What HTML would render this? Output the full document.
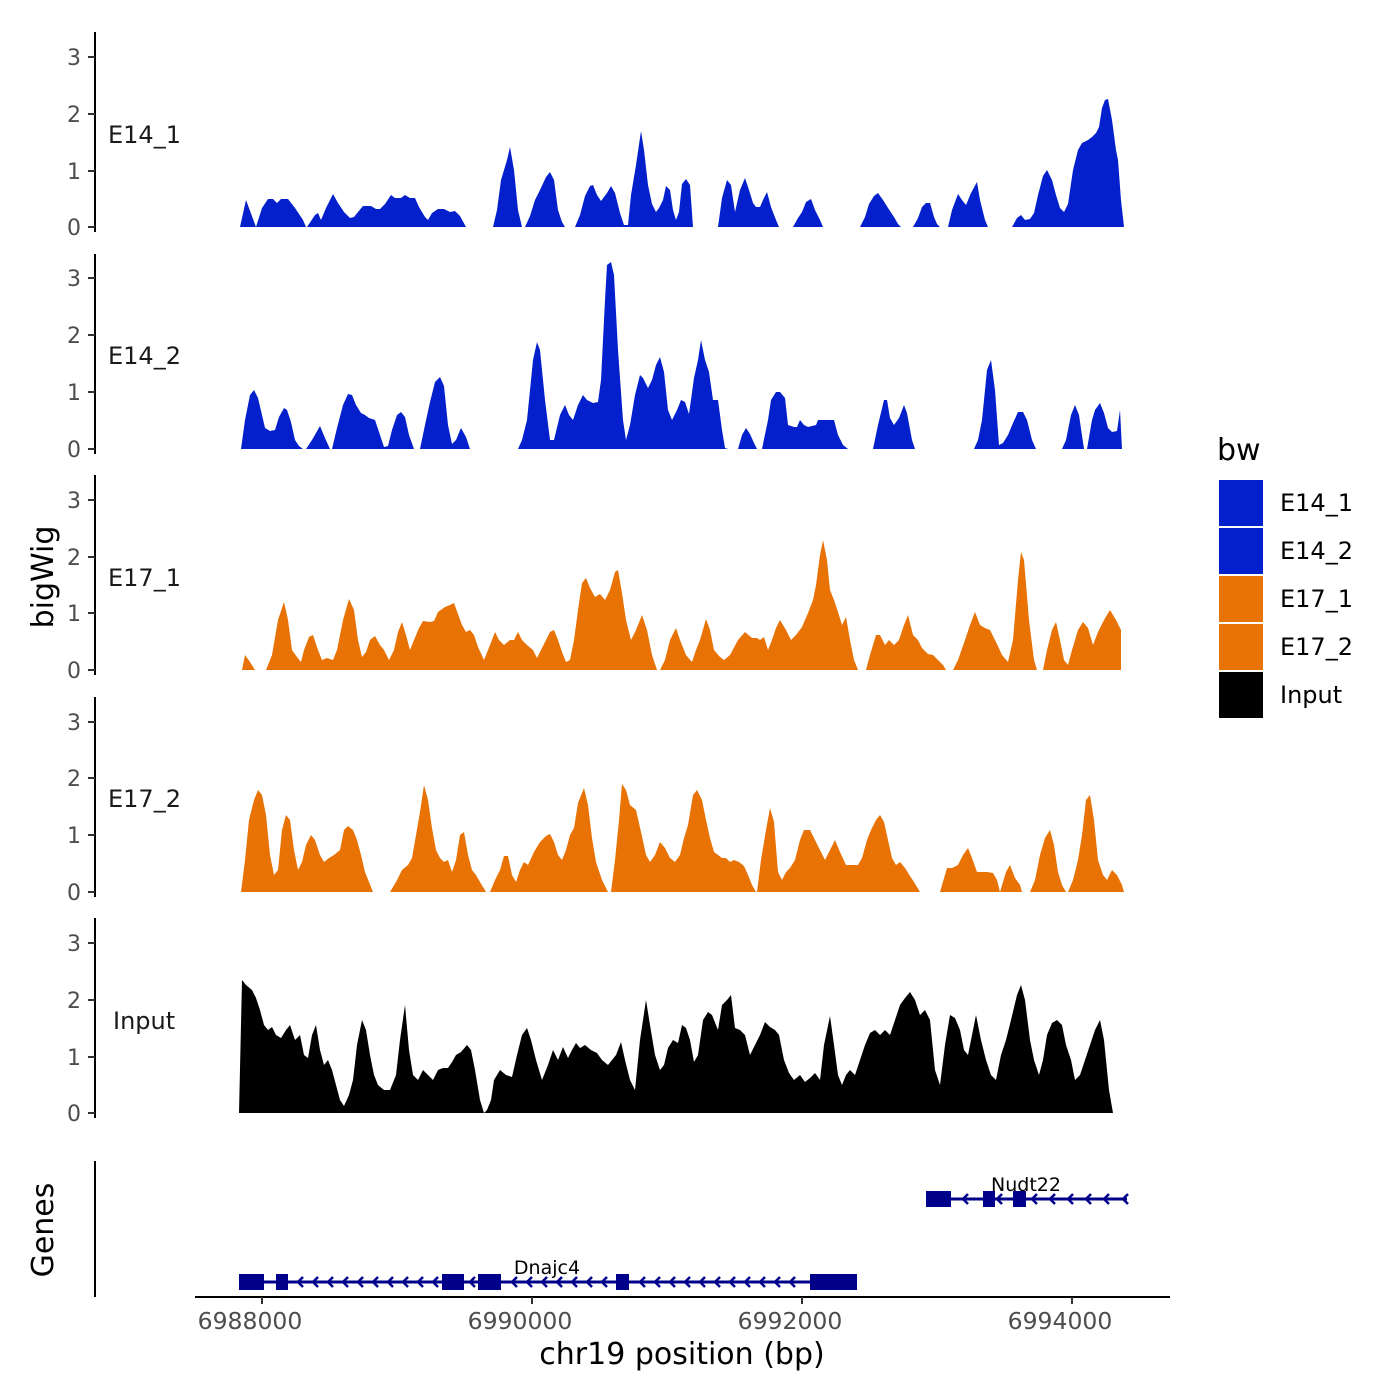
<!DOCTYPE html>
<html><head><style>
body{margin:0;background:#fff}
svg{display:block;font-family:"DejaVu Sans","Liberation Sans",sans-serif}
</style></head><body>
<svg width="1400" height="1400" viewBox="0 0 1400 1400" xmlns="http://www.w3.org/2000/svg">
<rect width="1400" height="1400" fill="#fff"/>
<!-- axes -->
<g stroke="#000" stroke-width="2">
<line x1="95" y1="32" x2="95" y2="232"/>
<line x1="95" y1="254" x2="95" y2="454"/>
<line x1="95" y1="475" x2="95" y2="675"/>
<line x1="95" y1="697" x2="95" y2="897"/>
<line x1="95" y1="918" x2="95" y2="1118"/>
<line x1="95" y1="1161" x2="95" y2="1297"/>
<line x1="195" y1="1297" x2="1170" y2="1297"/>
</g>
<g stroke="#333" stroke-width="2">
<line x1="88" y1="227" x2="95" y2="227"/><line x1="88" y1="171" x2="95" y2="171"/><line x1="88" y1="114" x2="95" y2="114"/><line x1="88" y1="57" x2="95" y2="57"/>
<line x1="88" y1="449" x2="95" y2="449"/><line x1="88" y1="392" x2="95" y2="392"/><line x1="88" y1="335" x2="95" y2="335"/><line x1="88" y1="278" x2="95" y2="278"/>
<line x1="88" y1="670" x2="95" y2="670"/><line x1="88" y1="613" x2="95" y2="613"/><line x1="88" y1="557" x2="95" y2="557"/><line x1="88" y1="500" x2="95" y2="500"/>
<line x1="88" y1="892" x2="95" y2="892"/><line x1="88" y1="835" x2="95" y2="835"/><line x1="88" y1="778" x2="95" y2="778"/><line x1="88" y1="722" x2="95" y2="722"/>
<line x1="88" y1="1113" x2="95" y2="1113"/><line x1="88" y1="1057" x2="95" y2="1057"/><line x1="88" y1="1000" x2="95" y2="1000"/><line x1="88" y1="943" x2="95" y2="943"/>
<line x1="262" y1="1297" x2="262" y2="1304"/><line x1="532" y1="1297" x2="532" y2="1304"/><line x1="802" y1="1297" x2="802" y2="1304"/><line x1="1072" y1="1297" x2="1072" y2="1304"/>
</g>
<g fill="#4d4d4d" font-size="22" text-anchor="end">
<text x="81" y="235">0</text><text x="81" y="179">1</text><text x="81" y="122">2</text><text x="81" y="65">3</text>
<text x="81" y="457">0</text><text x="81" y="400">1</text><text x="81" y="343">2</text><text x="81" y="286">3</text>
<text x="81" y="678">0</text><text x="81" y="621">1</text><text x="81" y="565">2</text><text x="81" y="508">3</text>
<text x="81" y="900">0</text><text x="81" y="843">1</text><text x="81" y="786">2</text><text x="81" y="730">3</text>
<text x="81" y="1121">0</text><text x="81" y="1065">1</text><text x="81" y="1008">2</text><text x="81" y="951">3</text>
</g>
<g fill="#4d4d4d" font-size="23.5" text-anchor="middle">
<text x="250" y="1329">6988000</text><text x="520" y="1329">6990000</text><text x="790" y="1329">6992000</text><text x="1060" y="1329">6994000</text>
</g>
<g fill="#1a1a1a" font-size="24">
<text x="108" y="143">E14_1</text><text x="108" y="364">E14_2</text><text x="108" y="586">E17_1</text><text x="108" y="807">E17_2</text><text x="113" y="1029">Input</text>
</g>
<text x="682" y="1364" font-size="30" text-anchor="middle">chr19 position (bp)</text>
<text transform="translate(53,577) rotate(-90)" font-size="30" text-anchor="middle">bigWig</text>
<text transform="translate(53,1230) rotate(-90)" font-size="30" text-anchor="middle">Genes</text>

<!-- Track 1 -->
<g fill="#0320cc">
<polygon points="240,227 246,200 256,227 262,208 268,199 273,199 277,203 281,199 288,199 295,208 303,220 306,227"/>
<polygon points="307,227 315,215 318,213 321,220 326,208 333,194 338,203 344,212 350,218 354,217 358,212 363,206 371,206 376,209 380,209 385,204 391,195 395,198 401,198 405,195 410,198 415,198 419,207 425,217 428,220 432,213 438,209 444,209 450,212 455,211 460,216 466,227"/>
<polygon points="493,227 497,210 501,180 507,160 510,147 514,170 518,210 522,227"/>
<polygon points="525,227 530,216 535,200 540,190 546,177 550,172 554,180 558,210 562,222 565,227"/>
<polygon points="575,227 580,215 585,196 590,186 593,185 597,195 601,201 607,193 611,186 615,193 620,213 624,225 628,225 631,195 636,165 641,131 644,150 648,185 652,204 656,212 659,208 663,200 666,186 670,190 673,210 676,220 679,212 682,184 686,179 690,185 693,227"/>
<polygon points="718,227 722,198 727,180 731,185 735,212 740,190 745,178 749,190 753,203 756,207 760,207 763,200 767,192 771,207 776,220 779,227"/>
<polygon points="793,227 798,218 802,212 806,202 811,199 815,210 820,220 823,227"/>
<polygon points="860,227 865,217 869,204 874,196 878,193 883,200 888,208 894,217 898,224 901,227"/>
<polygon points="913,227 918,218 922,207 926,203 930,203 934,217 937,224 940,227"/>
<polygon points="948,227 952,210 958,194 962,200 966,205 971,193 977,182 980,200 985,220 988,227"/>
<polygon points="1012,227 1017,218 1021,215 1025,220 1030,219 1034,213 1038,195 1043,176 1047,170 1052,180 1056,195 1060,208 1064,212 1068,204 1073,170 1078,150 1082,143 1088,140 1092,137 1096,133 1099,127 1102,108 1105,100 1108,99 1112,120 1116,150 1118,160 1121,200 1124,227"/>
</g>
<!-- Track 2 -->
<g fill="#0320cc">
<polygon points="241,449 245,420 250,395 254,390 258,398 262,415 265,428 270,431 275,430 279,417 284,408 287,410 291,422 295,440 299,446 303,449"/>
<polygon points="306,449 312,440 320,426 325,438 330,449"/>
<polygon points="332,449 337,428 343,405 348,394 352,395 356,405 361,413 365,415 369,418 375,420 379,432 384,447 388,446 392,430 397,415 401,412 405,417 409,435 414,449"/>
<polygon points="420,449 425,425 430,402 435,382 440,377 444,386 448,425 452,444 456,440 461,428 466,437 470,449"/>
<polygon points="518,449 522,440 527,420 533,360 537,342 540,350 545,400 550,440 554,440 560,415 565,405 569,415 573,420 578,405 583,395 587,400 593,403 598,402 601,380 605,300 607,265 611,262 614,275 618,350 623,420 626,440 630,425 635,395 640,375 643,378 648,388 652,380 656,365 660,357 664,372 668,410 672,420 677,410 681,400 685,402 689,414 694,378 698,360 701,340 705,360 709,372 713,400 718,400 722,430 725,448 728,449"/>
<polygon points="738,449 742,435 746,428 750,434 754,443 757,449"/>
<polygon points="762,449 768,420 771,400 776,392 780,392 785,398 788,425 794,427 797,427 800,420 804,425 808,427 812,426 816,425 818,420 834,420 838,435 843,445 848,449"/>
<polygon points="873,449 878,425 884,400 887,400 890,418 894,425 899,418 904,405 907,413 912,440 915,449"/>
<polygon points="974,449 978,440 982,420 987,370 991,360 995,390 999,445 1003,443 1008,435 1013,423 1018,412 1023,412 1027,420 1032,440 1036,449"/>
<polygon points="1062,449 1066,440 1071,415 1075,405 1079,415 1084,449"/>
<polygon points="1087,449 1092,420 1095,410 1100,403 1104,413 1108,428 1112,432 1117,431 1120,410 1122,449"/>
</g>
<!-- Track 3 -->
<g fill="#e87204">
<polygon points="242,670 245,655 250,662 255,670"/>
<polygon points="266,670 272,655 278,620 284,602 288,620 292,650 297,657 301,662 304,650 309,637 313,635 318,650 322,660 327,658 333,660 337,650 343,620 349,599 354,610 358,640 362,657 366,652 370,640 375,636 380,645 384,650 389,660 394,650 398,632 402,622 406,635 410,650 414,640 419,628 423,621 430,622 434,621 438,612 445,607 450,605 454,603 458,614 462,625 466,632 470,630 474,635 478,647 484,660 488,650 492,640 495,632 499,640 504,645 510,640 514,640 518,632 522,640 527,645 533,650 537,658 541,650 546,640 550,632 554,630 558,640 562,652 566,662 570,660 574,640 578,610 582,583 586,578 590,588 595,597 600,594 605,600 610,590 615,572 618,570 622,593 626,620 631,640 636,630 642,615 647,630 652,655 657,670"/>
<polygon points="660,670 665,660 670,640 676,628 680,640 686,655 692,662 696,650 700,640 706,619 710,630 714,650 720,657 724,660 730,655 738,640 745,632 752,638 757,638 760,640 764,637 768,650 772,640 776,628 780,620 786,630 791,640 796,635 802,627 808,613 813,600 816,585 820,555 823,540 827,560 830,590 834,600 838,612 842,625 846,617 850,640 854,660 858,670"/>
<polygon points="866,670 870,655 876,635 880,635 885,645 889,640 894,645 899,640 904,625 908,615 913,635 918,640 922,648 928,654 933,655 938,660 943,665 946,670"/>
<polygon points="953,670 958,660 965,640 970,625 975,612 980,625 985,628 990,630 996,642 1002,655 1008,662 1013,640 1018,580 1021,552 1024,560 1029,620 1034,660 1037,670"/>
<polygon points="1043,670 1047,650 1052,630 1056,622 1060,640 1064,660 1068,665 1072,650 1078,630 1083,622 1088,628 1093,645 1098,632 1104,620 1110,610 1116,620 1121,630 1121,670"/>
</g>
<!-- Track 4 -->
<g fill="#e87204">
<polygon points="241,892 245,860 249,820 254,800 258,790 262,795 266,815 270,855 274,875 278,870 282,830 286,815 290,820 294,850 298,870 302,862 306,845 311,835 315,840 320,855 324,862 329,858 334,855 340,850 344,830 348,826 353,830 357,840 361,855 365,872 369,882 373,892"/>
<polygon points="390,892 396,882 402,870 408,865 412,858 416,835 420,812 424,785 428,800 432,828 436,850 440,858 444,862 448,860 452,872 456,860 460,835 464,832 468,855 472,870 476,875 480,882 486,892"/>
<polygon points="490,892 495,880 500,870 504,856 508,856 512,875 516,882 520,870 524,862 528,865 534,852 540,842 546,836 550,834 554,842 558,855 562,860 566,850 570,835 574,828 578,803 584,788 588,805 592,838 596,862 602,880 608,892"/>
<polygon points="611,892 615,860 619,820 622,784 626,790 630,805 636,810 641,832 646,855 650,862 655,855 660,842 665,848 670,858 675,862 680,855 684,838 688,825 693,795 697,790 702,800 706,820 710,838 714,852 718,855 722,858 726,858 730,862 734,860 739,862 744,866 748,875 752,885 756,892"/>
<polygon points="757,892 761,860 766,830 770,808 774,822 778,872 782,880 786,872 790,868 795,860 800,840 804,830 810,830 815,840 820,850 825,860 830,850 835,840 840,852 846,865 852,865 858,865 862,858 867,840 871,830 876,820 880,815 884,822 888,840 892,858 896,865 900,862 905,868 910,876 914,882 920,892"/>
<polygon points="940,892 947,868 952,868 958,865 963,855 968,848 972,858 977,872 982,872 987,872 993,873 997,880 1000,892 1003,882 1006,872 1010,865 1015,878 1020,885 1022,892"/>
<polygon points="1030,892 1035,880 1040,855 1045,838 1050,830 1054,845 1058,872 1062,885 1066,892"/>
<polygon points="1068,892 1073,880 1078,860 1082,835 1086,800 1090,795 1094,820 1098,860 1103,875 1107,880 1112,870 1117,875 1122,885 1124,892"/>
</g>
<!-- Track 5 -->
<polygon fill="#000" points="239,1113 242,980 246,985 252,990 256,998 260,1010 264,1025 268,1030 272,1027 276,1035 281,1038 286,1030 290,1025 295,1040 300,1035 304,1055 308,1058 312,1035 316,1025 320,1050 324,1065 328,1060 332,1070 336,1085 340,1100 344,1106 349,1095 353,1080 357,1045 362,1020 366,1030 370,1055 374,1075 378,1085 384,1090 390,1090 396,1075 400,1040 405,1005 409,1050 413,1075 418,1080 423,1070 428,1075 433,1080 438,1070 443,1068 448,1068 452,1062 456,1055 461,1052 467,1045 471,1050 475,1070 480,1100 484,1113 487,1110 491,1100 494,1080 500,1070 506,1075 512,1077 517,1055 522,1035 527,1028 531,1040 536,1060 542,1080 548,1065 553,1050 558,1060 563,1047 568,1058 572,1050 576,1043 580,1048 585,1045 591,1050 597,1053 602,1060 608,1065 612,1060 616,1055 621,1042 625,1060 630,1080 635,1090 640,1040 646,1000 650,1025 655,1055 660,1070 664,1065 668,1048 673,1040 678,1043 682,1025 686,1028 690,1040 694,1062 698,1055 703,1020 708,1012 712,1015 718,1030 722,1005 727,1000 731,995 735,1028 740,1030 745,1035 750,1055 755,1045 760,1035 765,1022 770,1027 775,1030 779,1035 784,1060 789,1073 794,1080 800,1075 805,1082 810,1078 815,1073 820,1080 824,1045 830,1016 834,1045 838,1075 842,1085 846,1075 850,1070 855,1075 860,1060 865,1045 870,1033 875,1030 880,1035 885,1030 890,1035 895,1020 900,1005 905,998 910,992 915,1000 920,1015 925,1010 930,1020 935,1070 940,1085 945,1045 950,1015 955,1018 960,1030 964,1050 968,1055 972,1035 976,1015 981,1040 986,1060 991,1075 996,1080 1001,1055 1006,1040 1011,1020 1017,995 1021,985 1025,1000 1030,1040 1034,1060 1039,1075 1043,1060 1047,1035 1052,1023 1057,1020 1062,1025 1066,1045 1071,1060 1075,1080 1080,1075 1085,1060 1090,1045 1095,1030 1100,1020 1104,1040 1109,1090 1113,1113"/>

<!-- Genes -->
<g stroke="#00008b" stroke-width="3" fill="none">
<line x1="239" y1="1282" x2="857" y2="1282"/>
<line x1="926" y1="1199" x2="1127" y2="1199"/>
<g stroke-width="2.5">
<polyline points="303,1277 298,1282 303,1287"/><polyline points="318,1277 313,1282 318,1287"/><polyline points="333,1277 328,1282 333,1287"/><polyline points="348,1277 343,1282 348,1287"/><polyline points="363,1277 358,1282 363,1287"/><polyline points="378,1277 373,1282 378,1287"/><polyline points="393,1277 388,1282 393,1287"/><polyline points="408,1277 403,1282 408,1287"/><polyline points="423,1277 418,1282 423,1287"/><polyline points="438,1277 433,1282 438,1287"/>
<polyline points="475,1277 470,1282 475,1287"/>
<polyline points="517,1277 512,1282 517,1287"/><polyline points="532,1277 527,1282 532,1287"/><polyline points="547,1277 542,1282 547,1287"/><polyline points="562,1277 557,1282 562,1287"/><polyline points="577,1277 572,1282 577,1287"/><polyline points="592,1277 587,1282 592,1287"/><polyline points="607,1277 602,1282 607,1287"/>
<polyline points="645,1277 640,1282 645,1287"/><polyline points="660,1277 655,1282 660,1287"/><polyline points="675,1277 670,1282 675,1287"/><polyline points="690,1277 685,1282 690,1287"/><polyline points="705,1277 700,1282 705,1287"/><polyline points="720,1277 715,1282 720,1287"/><polyline points="735,1277 730,1282 735,1287"/><polyline points="750,1277 745,1282 750,1287"/><polyline points="765,1277 760,1282 765,1287"/><polyline points="780,1277 775,1282 780,1287"/><polyline points="795,1277 790,1282 795,1287"/>
<polyline points="968,1194 963,1199 968,1204"/><polyline points="1002,1194 997,1199 1002,1204"/><polyline points="1037,1194 1032,1199 1037,1204"/><polyline points="1055,1194 1050,1199 1055,1204"/><polyline points="1073,1194 1068,1199 1073,1204"/><polyline points="1091,1194 1086,1199 1091,1204"/><polyline points="1109,1194 1104,1199 1109,1204"/><polyline points="1128,1194 1123,1199 1128,1204"/>
</g>
</g>
<g fill="#00008b">
<rect x="239" y="1274" width="25" height="16"/><rect x="276" y="1274" width="12" height="16"/><rect x="442" y="1274" width="22" height="16"/><rect x="478" y="1274" width="23" height="16"/><rect x="616" y="1274" width="13" height="16"/><rect x="810" y="1274" width="47" height="16"/>
<rect x="926" y="1191" width="25" height="16"/><rect x="983" y="1191" width="12" height="16"/><rect x="1013" y="1191" width="13" height="16"/>
</g>
<g font-size="19" text-anchor="middle" fill="#000">
<text x="547" y="1274">Dnajc4</text><text x="1026" y="1191">Nudt22</text>
</g>

<!-- Legend -->
<text x="1217" y="460" font-size="30">bw</text>
<rect x="1219" y="480" width="44" height="46" fill="#0320cc"/>
<rect x="1219" y="528" width="44" height="46" fill="#0320cc"/>
<rect x="1219" y="576" width="44" height="46" fill="#e87204"/>
<rect x="1219" y="624" width="44" height="46" fill="#e87204"/>
<rect x="1219" y="672" width="44" height="46" fill="#000"/>
<g stroke="#fff" stroke-width="2"><line x1="1219" y1="527" x2="1263" y2="527"/><line x1="1219" y1="575" x2="1263" y2="575"/><line x1="1219" y1="623" x2="1263" y2="623"/><line x1="1219" y1="671" x2="1263" y2="671"/></g>
<g font-size="24" fill="#000">
<text x="1280" y="511">E14_1</text><text x="1280" y="559">E14_2</text><text x="1280" y="607">E17_1</text><text x="1280" y="655">E17_2</text><text x="1280" y="703">Input</text>
</g>
</svg>
</body></html>
